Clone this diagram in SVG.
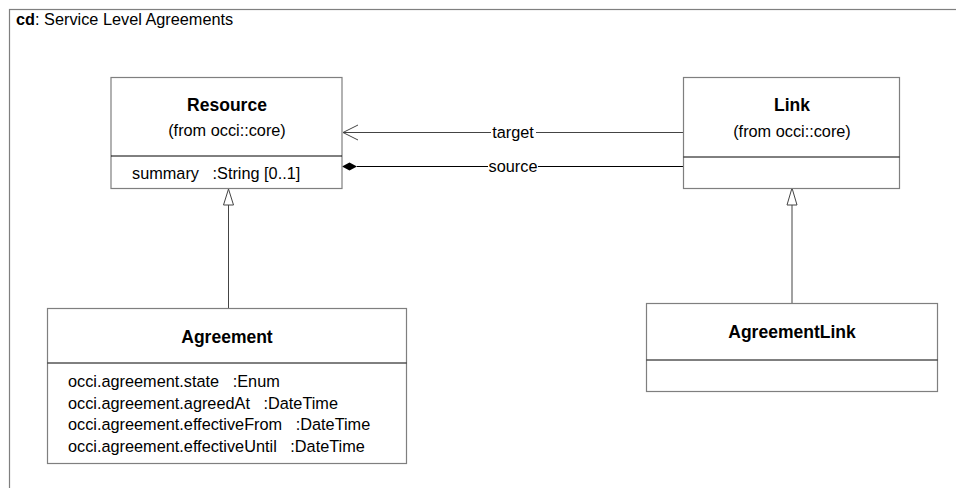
<svg xmlns="http://www.w3.org/2000/svg" width="956" height="488" viewBox="0 0 956 488">
<defs>
<style>
.box{fill:#ffffff;stroke:#7f7f7f;stroke-width:1.2}
.div{stroke:#000000;stroke-width:1}
.t{font-family:"Liberation Sans",Arial,sans-serif;font-size:16.3px;fill:#000;white-space:pre}
.b{font-family:"Liberation Sans",Arial,sans-serif;font-size:17.5px;font-weight:bold;fill:#000}
.c{text-anchor:middle}
.ln{stroke:#444;stroke-width:1;fill:none}
</style>
</defs>
<rect x="0" y="0" width="956" height="488" fill="#ffffff"/>
<rect x="9.5" y="9.5" width="950" height="490" fill="#ffffff" stroke="#7f7f7f" stroke-width="1.2"/>
<text x="16" y="25" class="t" xml:space="preserve"><tspan font-weight="bold">cd</tspan>: Service Level Agreements</text>

<g id="connectors">
<g id="target">
<line x1="683" y1="132.5" x2="343" y2="132.5" class="ln"/>
<polyline points="358,125 343,132.5 358,140" class="ln"/>
<rect x="491" y="124" width="45" height="18" fill="#fff"/>
<text x="513" y="138" class="t c">target</text>
</g>
<g id="source">
<line x1="683" y1="166.5" x2="357" y2="166.5" stroke="#000" stroke-width="1"/>
<path d="M342,166.5 L349.5,162.5 L357,166.5 L349.5,170.5 Z" fill="#000"/>
<rect x="488" y="158" width="50" height="18" fill="#fff"/>
<text x="513" y="172" class="t c">source</text>
</g>
<g id="gen-agreement">
<line x1="228.5" y1="308" x2="228.5" y2="205" class="ln"/>
<path d="M228.5,189 L223.5,205 L233.5,205 Z" fill="#fff" stroke="#444" stroke-width="1"/>
</g>
<g id="gen-agreementlink">
<line x1="792" y1="303" x2="792" y2="205" class="ln"/>
<path d="M792,188 L787,205 L797,205 Z" fill="#fff" stroke="#444" stroke-width="1"/>
</g>
</g>

<g id="Resource">
<rect x="111" y="77.5" width="231" height="111" class="box"/>
<line x1="111" y1="156" x2="342" y2="156" class="div"/>
<text x="227" y="111" class="b c">Resource</text>
<text x="227" y="136" class="t c">(from occi::core)</text>
<text x="132" y="179" class="t" xml:space="preserve">summary   :String [0..1]</text>
</g>

<g id="Link">
<rect x="683.5" y="77.5" width="216" height="111" class="box"/>
<line x1="683.5" y1="157" x2="899.5" y2="157" class="div"/>
<text x="792" y="111" class="b c">Link</text>
<text x="792" y="137" class="t c">(from occi::core)</text>
</g>

<g id="Agreement">
<rect x="47.5" y="308.5" width="359" height="155" class="box"/>
<line x1="47.5" y1="363" x2="406.5" y2="363" class="div"/>
<text x="227" y="343" class="b c">Agreement</text>
<text x="68" y="387" class="t" xml:space="preserve">occi.agreement.state   :Enum</text>
<text x="68" y="409" class="t" xml:space="preserve">occi.agreement.agreedAt   :DateTime</text>
<text x="68" y="430" class="t" xml:space="preserve">occi.agreement.effectiveFrom   :DateTime</text>
<text x="68" y="452" class="t" xml:space="preserve">occi.agreement.effectiveUntil   :DateTime</text>
</g>

<g id="AgreementLink">
<rect x="646.5" y="303.5" width="291" height="88" class="box"/>
<line x1="646.5" y1="360" x2="937.5" y2="360" class="div"/>
<text x="792" y="338" class="b c">AgreementLink</text>
</g>
</svg>
